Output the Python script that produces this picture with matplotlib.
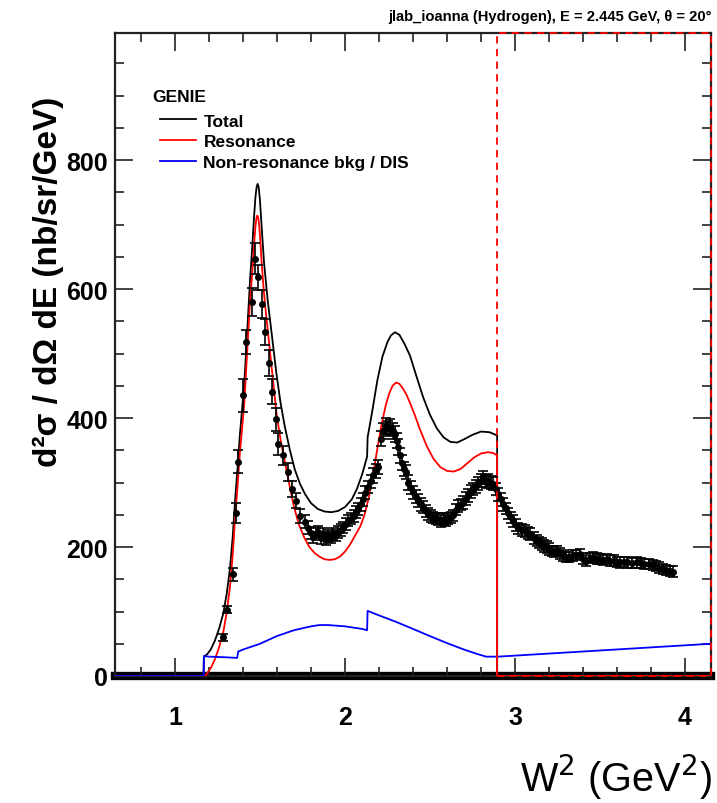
import matplotlib
matplotlib.use("Agg")
import matplotlib.pyplot as plt
from matplotlib.patches import Rectangle
from matplotlib.ticker import MultipleLocator

plt.rcParams["font.family"] = ["Liberation Sans", "DejaVu Sans"]

# JLab data points (W^2 in GeV^2, cross section in nb/sr/GeV)
data_w2 = [
    1.28, 1.305, 1.34, 1.357, 1.372, 1.398, 1.42, 1.451, 1.47, 1.49,
    1.51, 1.53, 1.553, 1.572, 1.592, 1.608, 1.637, 1.667, 1.69, 1.71,
    1.735, 1.765, 1.784, 1.80, 1.814, 1.83, 1.843, 1.86, 1.872, 1.89,
    1.90, 1.915, 1.93, 1.945, 1.96, 1.975, 1.99, 2.005, 2.02, 2.035,
    2.05, 2.065, 2.078, 2.093, 2.108, 2.12, 2.137, 2.15, 2.166, 2.18,
    2.196, 2.21, 2.225, 2.24, 2.255, 2.265, 2.28, 2.294, 2.305, 2.314,
    2.325, 2.333, 2.345, 2.36, 2.372, 2.386, 2.40, 2.415, 2.43, 2.445,
    2.46, 2.475, 2.49, 2.505, 2.52, 2.535, 2.55, 2.565, 2.58, 2.595,
    2.608, 2.622, 2.637, 2.652, 2.667, 2.68, 2.696, 2.71, 2.725, 2.74,
    2.755, 2.77, 2.784, 2.80, 2.813, 2.828, 2.843, 2.858, 2.872, 2.886,
    2.90, 2.915, 2.93, 2.945, 2.96, 2.975, 2.99, 3.005, 3.02, 3.04,
    3.06, 3.075, 3.09, 3.11, 3.127, 3.14, 3.157, 3.17, 3.186, 3.20,
    3.216, 3.23, 3.245, 3.265, 3.284, 3.30, 3.32, 3.34, 3.36, 3.38,
    3.40, 3.42, 3.44, 3.46, 3.48, 3.50, 3.52, 3.54, 3.56, 3.58,
    3.60, 3.62, 3.64, 3.66, 3.69, 3.72, 3.74, 3.76, 3.79, 3.81,
    3.83, 3.85, 3.87, 3.89, 3.91, 3.93,
]
data_xs = [
    60, 103, 158, 253, 332, 435, 518, 580, 647, 618,
    577, 533, 485, 441, 398, 360, 342, 316, 290, 272,
    248, 239, 230, 222, 215, 220, 223, 214, 220, 212,
    217, 215, 220, 218, 223, 226, 230, 236, 241, 244,
    248, 254, 259, 266, 274, 284, 293, 302, 311, 318,
    324, 368, 380, 388, 384, 386, 380, 375, 365, 355,
    342, 331, 321, 316, 300, 292, 285, 278, 272, 266,
    262, 256, 251, 248, 246, 244, 243, 240, 243, 241,
    244, 246, 249, 258, 264, 266, 269, 275, 280, 286,
    290, 294, 298, 303, 308, 301, 303, 300, 298, 290,
    282, 274, 266, 260, 252, 246, 240, 234, 229, 226,
    225, 222, 220, 214, 210, 207, 205, 202, 200, 197,
    194, 193, 194, 190, 187, 185, 184, 187, 188, 189,
    182, 179, 183, 184, 182, 181, 180, 181, 179, 179,
    177, 176, 177, 176, 175, 176, 175, 174, 174, 172,
    171, 168, 166, 164, 163, 162,
]
data_err = [
    5, 6, 10, 15, 18, 25, 19, 22, 24, 20,
    22, 20, 20, 20, 18, 17, 15, 14, 13, 12,
    11, 10, 10, 9, 9, 9, 9, 9, 9, 9,
    9, 9, 9, 9, 9, 9, 9, 9, 9, 9,
    9, 9, 10, 10, 10, 10, 10, 10, 11, 11,
    11, 12, 12, 12, 12, 12, 12, 12, 12, 12,
    11, 11, 11, 11, 11, 10, 10, 10, 10, 10,
    10, 9, 9, 9, 9, 9, 9, 9, 9, 9,
    9, 9, 9, 9, 9, 9, 10, 10, 10, 10,
    10, 10, 10, 10, 10, 10, 10, 10, 10, 10,
    10, 10, 10, 9, 9, 9, 9, 9, 9, 9,
    9, 9, 9, 9, 9, 9, 9, 9, 9, 9,
    8, 8, 8, 8, 8, 8, 8, 8, 8, 8,
    8, 8, 8, 8, 8, 8, 8, 8, 8, 8,
    8, 8, 8, 8, 8, 8, 8, 8, 8, 8,
    8, 8, 8, 8, 8, 8,
]

# GENIE total
tot_w2 = [
    0.647, 1.168, 1.17, 1.19, 1.21, 1.235, 1.26, 1.284, 1.305, 1.324,
    1.34, 1.353, 1.368, 1.382, 1.395, 1.408, 1.425, 1.441, 1.455, 1.465,
    1.473, 1.48, 1.486, 1.492, 1.499, 1.506, 1.515, 1.524, 1.545, 1.569,
    1.595, 1.62, 1.645, 1.676, 1.705, 1.735, 1.765, 1.80, 1.84, 1.88,
    1.92, 1.96, 2.00, 2.04, 2.07, 2.10, 2.13, 2.133, 2.16, 2.19,
    2.22, 2.25, 2.27, 2.294, 2.32, 2.35, 2.382, 2.42, 2.46, 2.50,
    2.54, 2.58, 2.62, 2.66, 2.70, 2.75, 2.80, 2.85, 2.895, 2.895,
    4.153,
]
tot_xs = [
    0, 0, 30, 34, 41, 55, 74, 97, 129, 168,
    218, 271, 323, 375, 415, 455, 535, 612, 668, 712,
    742, 758, 763, 758, 740, 712, 675, 640, 583, 530,
    472, 425, 388, 350, 320, 298, 282, 268, 259, 255,
    254, 256, 262, 274, 290, 312, 340, 370, 410, 458,
    495, 518, 528, 533, 529, 515, 497, 465, 432, 405,
    384, 370, 363, 362, 367, 374, 379, 378, 373, 0,
    0,
]

# GENIE resonance
res_w2 = [
    0.647, 1.18, 1.19, 1.21, 1.235, 1.26, 1.284, 1.305, 1.324, 1.34,
    1.353, 1.368, 1.382, 1.395, 1.408, 1.425, 1.441, 1.455, 1.465, 1.473,
    1.479, 1.484, 1.489, 1.495, 1.502, 1.51, 1.52, 1.53, 1.549, 1.575,
    1.598, 1.62, 1.64, 1.67, 1.70, 1.73, 1.76, 1.79, 1.82, 1.85,
    1.88, 1.91, 1.94, 1.97, 2.00, 2.03, 2.06, 2.09, 2.115, 2.14,
    2.165, 2.19, 2.215, 2.24, 2.26, 2.28, 2.30, 2.32, 2.34, 2.36,
    2.38, 2.41, 2.44, 2.48, 2.52, 2.56, 2.60, 2.64, 2.68, 2.72,
    2.76, 2.80, 2.84, 2.87, 2.895, 2.895, 4.153,
]
res_xs = [
    0, 0, 5, 12, 26, 45, 68, 100, 140, 190,
    243, 295, 347, 385, 425, 505, 579, 628, 668, 697,
    710, 714, 711, 700, 675, 640, 605, 575, 528, 462,
    405, 368, 340, 300, 262, 234, 215, 200, 191, 185,
    181, 180, 181, 185, 193, 204, 218, 232, 250, 277,
    312, 352, 390, 420, 438, 450, 455, 453, 446, 437,
    425, 405, 383, 357, 337, 324, 318, 317, 321, 330,
    339, 345, 347, 346, 342, 0, 0,
]

# GENIE non-resonance background / DIS
bkg_w2 = [
    0.647, 1.168, 1.17, 1.2, 1.3, 1.365, 1.372, 1.40, 1.5, 1.6,
    1.7, 1.8, 1.85, 1.9, 2.0, 2.1, 2.13, 2.133, 2.2, 2.3,
    2.4, 2.48, 2.6, 2.7, 2.78, 2.83, 2.9, 4.153,
]
bkg_xs = [
    0, 0, 31, 30, 29, 28, 38, 41, 50, 62,
    71, 77, 79, 79, 77, 73, 71, 101, 94, 84,
    73, 64, 51, 41, 34, 30, 30, 50,
]

W2_CUT = 2.895
XMIN, XMAX = 0.647, 4.153
YMAX = 997

fig = plt.figure(figsize=(7.17, 8.04), dpi=100)
ax = fig.add_axes([115 / 717, 1 - 677 / 804, 596 / 717, 643 / 804])

# thick zero band along the bottom
ax.axhline(0, color="black", lw=6, zorder=1, clip_on=False)

ax.plot(tot_w2, tot_xs, color="black", lw=1.3, label="Total", zorder=3)
ax.plot(res_w2, res_xs, color="red", lw=1.3, label="Resonance", zorder=3)
ax.plot(bkg_w2, bkg_xs, color="blue", lw=1.3, label="Non-resonance bkg / DIS", zorder=3)

ax.errorbar(data_w2, data_xs, yerr=data_err, fmt="o", color="black", ms=4,
            elinewidth=1.2, capsize=3.6, capthick=1.2, zorder=4)

box = Rectangle((W2_CUT, 0), XMAX - W2_CUT, YMAX, fill=False, ec="red", lw=1.3,
                ls=(0, (4, 3)), zorder=6, clip_on=False)
ax.add_patch(box)

ax.set_xlim(XMIN, XMAX)
ax.set_ylim(0, YMAX)

ax.xaxis.set_major_locator(MultipleLocator(1))
ax.xaxis.set_minor_locator(MultipleLocator(0.2))
ax.yaxis.set_major_locator(MultipleLocator(200))
ax.yaxis.set_minor_locator(MultipleLocator(50))
ax.tick_params(which="both", direction="in", top=True, right=True, width=1.2, color="#222222")
ax.tick_params(which="major", length=13)
ax.tick_params(which="minor", length=6.5)
ax.tick_params(axis="x", which="major", pad=21, labelsize=18)
ax.tick_params(axis="y", which="major", pad=5, labelsize=18)
for lab in ax.get_xticklabels() + ax.get_yticklabels():
    lab.set_fontweight("bold")
for sp in ax.spines.values():
    sp.set_linewidth(1.6)
    sp.set_color("#222222")

ax.text(0.062, 0.902, "GENIE", transform=ax.transAxes, ha="left", va="center",
        fontsize=12.5, fontweight="bold")
ax.legend(loc="upper left", bbox_to_anchor=(0.0755, 0.875), frameon=False,
          borderpad=0, borderaxespad=0, handlelength=2.1, handletextpad=0.4,
          labelspacing=0.32, prop={"weight": "bold", "size": 12.5})

fig.text(712 / 717, 1 - 17 / 804, "jlab_ioanna (Hydrogen), E = 2.445 GeV, \u03b8 = 20\u00b0",
         ha="right", va="center", fontsize=10.6, fontweight="bold")
fig.text(48 / 717, 1 - 97 / 804, "d\u00b2\u03c3 / d\u03a9 dE (nb/sr/GeV)", rotation=90,
         ha="center", va="top", fontsize=24, fontweight="bold")
fig.text(712 / 717, 1 - 777 / 804, r"W$^{2}$ (GeV$^{2}$)", ha="right", va="center",
         fontsize=28.5)

fig.savefig("out.png", dpi=100)
